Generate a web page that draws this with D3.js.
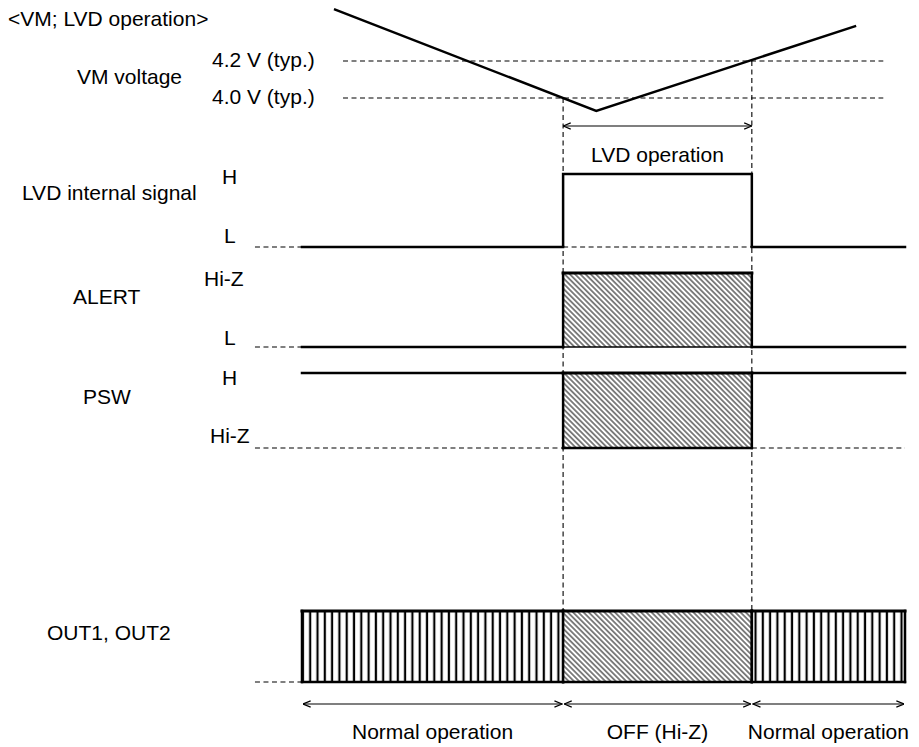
<!DOCTYPE html>
<html><head><meta charset="utf-8">
<script src="https://cdn.jsdelivr.net/npm/d3@7"></script>
<style>
html,body{margin:0;padding:0;background:#fff;}
svg{display:block;}
text{font-family:"Liberation Sans",Arial,Helvetica,sans-serif;font-size:21px;fill:#000;}
</style></head>
<body>
<svg id="chart" width="919" height="747"></svg>
<script>
// ---------- data ----------
const title = "<VM; LVD operation>";
const phaseLabels = ["Normal operation", "OFF (Hi-Z)", "Normal operation"];
const phaseEdges = [0, 43.3, 74.6, 100];          // time (arb. units)
const vmTimes = [5.3, 48.8, 91.9];
const vmVolts = [4.48, 3.93, 4.39];
const vmRefLevels = [4.2, 4.0];
const vmRefLabels = ["4.2 V (typ.)", "4.0 V (typ.)"];
const lvdLabel = "LVD operation";
const signalNames = ["LVD internal signal", "ALERT", "PSW", "OUT1, OUT2"];
const levelLabels = [["H", "L"], ["Hi-Z", "L"], ["H", "Hi-Z"], ["", ""]];
// state per phase: "hi" = upper level, "lo" = lower level, "z" = hatched Hi-Z, "act" = switching
const signalStates = [
  ["lo", "hi", "lo"],
  ["lo", "z", "lo"],
  ["hi", "z", "hi"],
  ["act", "z", "act"]
];

// ---------- layout ----------
const svg = d3.select("#chart");
const x = d3.scaleLinear().domain([0, 100]).range([302, 905]);
const yV = d3.scaleLinear().domain([4.0, 4.2]).range([98, 61]);
const guideT = [6.8, 96.4];
const stubT = -7.8;
const rows = [   // [upper y, lower y]
  [174, 247],
  [273, 347],
  [373, 448],
  [611, 682]
];
const defs = svg.append("defs");
const diag = defs.append("pattern").attr("id", "diag").attr("patternUnits", "userSpaceOnUse")
  .attr("width", 3.7).attr("height", 10).attr("patternTransform", "rotate(-45)");
diag.append("rect").attr("width", 3.7).attr("height", 10).attr("fill", "#fff");
diag.append("line").attr("x1", 1.85).attr("x2", 1.85).attr("y1", 0).attr("y2", 10)
  .attr("stroke", "#333").attr("stroke-width", 1.2);
const vert = defs.append("pattern").attr("id", "vert").attr("patternUnits", "userSpaceOnUse")
  .attr("width", 7.3).attr("height", 10);
vert.append("rect").attr("width", 7.3).attr("height", 10).attr("fill", "#fff");
vert.append("line").attr("x1", 3.6).attr("x2", 3.6).attr("y1", 0).attr("y2", 10)
  .attr("stroke", "#000").attr("stroke-width", 2.2);
const mk = defs.append("marker").attr("id", "arr").attr("markerUnits", "userSpaceOnUse")
  .attr("viewBox", "0 0 10 10").attr("refX", 9.5).attr("refY", 5)
  .attr("markerWidth", 9).attr("markerHeight", 9).attr("orient", "auto-start-reverse");
mk.append("path").attr("d", "M1,1.5 L9.5,5 L1,8.5").attr("fill", "none")
  .attr("stroke", "#000").attr("stroke-width", 1.3);

const dash = (g, x1, y1, x2, y2) => g.append("line").attr("x1", x1).attr("y1", y1)
  .attr("x2", x2).attr("y2", y2).attr("stroke", "#000").attr("stroke-width", 1.1)
  .attr("stroke-dasharray", "5,3.5");
const solid = (g, x1, y1, x2, y2, w) => g.append("line").attr("x1", x1).attr("y1", y1)
  .attr("x2", x2).attr("y2", y2).attr("stroke", "#000").attr("stroke-width", w || 2.5)
  .attr("stroke-linecap", "square");
const arrow = (x1, x2, y) => svg.append("line").attr("x1", x1).attr("x2", x2)
  .attr("y1", y).attr("y2", y).attr("stroke", "#000").attr("stroke-width", 1.2)
  .attr("marker-start", "url(#arr)").attr("marker-end", "url(#arr)");

// title
svg.append("text").attr("x", 8).attr("y", 26).text(title);

// ---------- VM voltage ----------
const gV = svg.append("g");
svg.append("text").attr("x", 77).attr("y", 84).text("VM voltage");
vmRefLevels.forEach((v, i) => {
  dash(gV, x(guideT[0]), yV(v), x(guideT[1]), yV(v));
  svg.append("text").attr("x", 212).attr("y", yV(v) + 6).text(vmRefLabels[i]);
});
const line = d3.line().x((d, i) => x(vmTimes[i])).y(d => yV(d));
gV.append("path").datum(vmVolts).attr("d", line).attr("fill", "none")
  .attr("stroke", "#000").attr("stroke-width", 2.5).attr("stroke-linejoin", "miter");

// vertical dashed event lines
dash(svg, x(phaseEdges[1]), yV(4.0), x(phaseEdges[1]), rows[3][0]);
dash(svg, x(phaseEdges[2]), yV(4.2), x(phaseEdges[2]), rows[3][0]);

// LVD operation arrow
arrow(x(phaseEdges[1]), x(phaseEdges[2]), 126);
svg.append("text").attr("x", (x(phaseEdges[1]) + x(phaseEdges[2])) / 2).attr("y", 162)
  .attr("text-anchor", "middle").text(lvdLabel);

// ---------- signals ----------
const nameX = [22, 73, 83, 47];
const nameY = [200, 304, 404, 640];
const lvlX = [[222, 224], [204, 224], [222, 210]];
const lvlY = [[184, 243], [286, 345], [385, 443]];
signalNames.forEach((name, r) => {
  const g = svg.append("g");
  const [yHi, yLo] = rows[r];
  svg.append("text").attr("x", nameX[r]).attr("y", nameY[r]).text(name);
  if (r < 3) {
    svg.append("text").attr("x", lvlX[r][0]).attr("y", lvlY[r][0]).text(levelLabels[r][0]);
    svg.append("text").attr("x", lvlX[r][1]).attr("y", lvlY[r][1]).text(levelLabels[r][1]);
  }
  const st = signalStates[r];
  if (r === 2) {
    dash(g, x(stubT), yLo, x(phaseEdges[1]), yLo);
    dash(g, x(phaseEdges[2]), yLo, x(phaseEdges[3]), yLo);
  } else {
    dash(g, x(stubT), yLo, x(0), yLo);
  }
  st.forEach((s, p) => {
    const x0 = x(phaseEdges[p]), x1 = x(phaseEdges[p + 1]);
    if (s === "lo") solid(g, x0, yLo, x1, yLo);
    else if (s === "hi" && r !== 0) solid(g, x0, yHi, x1, yHi);
    else if (s === "z" || s === "act") {
      g.append("rect").attr("x", x0).attr("y", yHi).attr("width", x1 - x0).attr("height", yLo - yHi)
        .attr("fill", s === "z" ? "url(#diag)" : "url(#vert)");
      solid(g, x0, yHi, x1, yHi, 3);
      solid(g, x0, yLo, x1, yLo, r === 1 ? 1.5 : 2.5);
      solid(g, x0, yHi, x0, yLo, 2.5);
      solid(g, x1, yHi, x1, yLo, 2.5);
    }
  });
  if (r === 0) { // pulse
    const x0 = x(phaseEdges[1]), x1 = x(phaseEdges[2]);
    dash(g, x0, yLo, x1, yLo);
    g.append("path").attr("d", `M${x0},${yLo}V${yHi}H${x1}V${yLo}`).attr("fill", "none")
      .attr("stroke", "#000").attr("stroke-width", 2.5);
  }
});

// ---------- phase arrows ----------
phaseLabels.forEach((lab, p) => {
  const x0 = x(phaseEdges[p]), x1 = x(phaseEdges[p + 1]);
  arrow(x0 + 1, x1 - 1, 704);
  svg.append("text").attr("x", (x0 + x1) / 2 + (p === 2 ? 0 : 0)).attr("y", 739)
    .attr("text-anchor", "middle").text(lab);
});
</script>
</body></html>
